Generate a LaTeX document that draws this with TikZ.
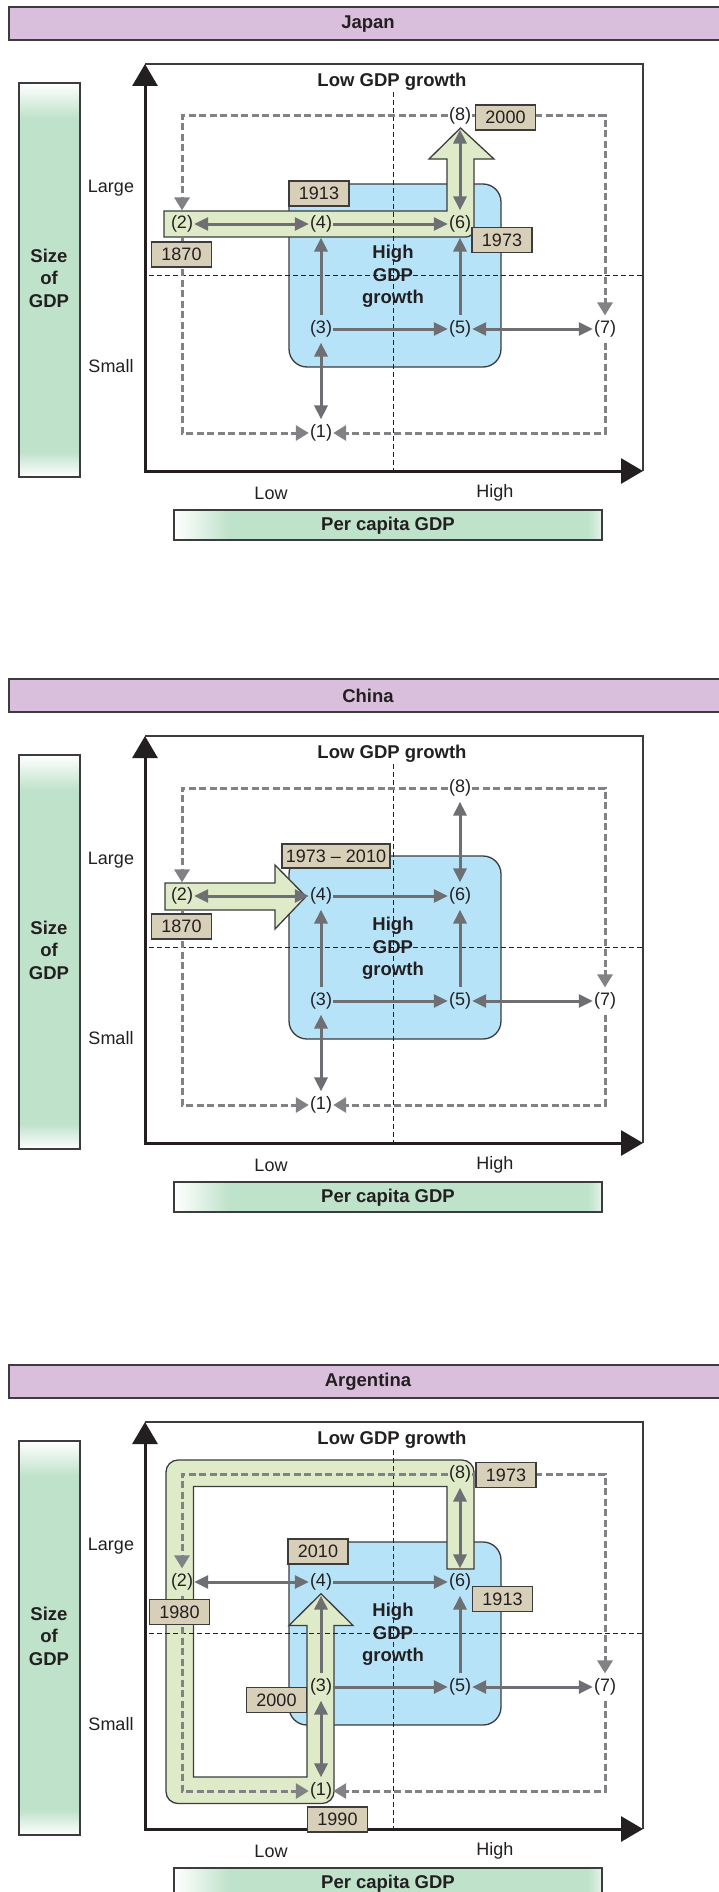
\documentclass[tikz,border=0pt]{standalone}
\usepackage{fontspec}
\setmainfont{Liberation Sans}
\usetikzlibrary{arrows.meta}
\definecolor{titlepurple}{RGB}{217,191,220}
\definecolor{gdpgreen}{RGB}{191,226,203}
\definecolor{bluebox}{RGB}{183,227,248}
\definecolor{lightgreen}{RGB}{223,235,200}
\definecolor{tanbox}{RGB}{216,207,185}
\definecolor{arrowgray}{RGB}{110,111,114}
\definecolor{dashgray}{RGB}{128,130,133}
\definecolor{darkline}{RGB}{35,31,32}
\definecolor{bordergray}{RGB}{60,60,62}
\newcommand\numfont{\fontsize{18}{21}\selectfont}
\newcommand\boldfnt{\fontsize{18.5}{22.5}\selectfont\bfseries}
\tikzset{
  numnode/.style={inner xsep=1pt, inner ysep=5pt, font=\numfont, text=darkline},
  plaintext/.style={inner sep=0pt, font=\numfont, text=darkline},
  boldtext/.style={inner sep=0pt, font=\boldfnt, text=darkline, align=center},
  yearbox/.style={draw=bordergray, line width=1.3pt, fill=tanbox, minimum width=60pt, minimum height=25pt, inner sep=0pt, font=\numfont, text=darkline},
  greenshape/.style={draw=bordergray, line width=1.3pt, fill=lightgreen, line join=miter},
  grayarrow/.style={draw=arrowgray, line width=3pt, -{Triangle[length=14pt,width=13pt]}},
  graydouble/.style={draw=arrowgray, line width=3pt, {Triangle[length=14pt,width=13pt]}-{Triangle[length=14pt,width=13pt]}},
  dasharrow/.style={draw=dashgray, line width=3pt, dash pattern=on 7pt off 3.5pt, line join=miter, -{Triangle[length=13pt,width=15pt]}},
  midline/.style={draw=darkline, line width=0.9pt, dash pattern=on 5pt off 3pt},
  axisline/.style={draw=darkline, line width=3pt, line join=miter, {Triangle[length=22pt,width=25pt]}-{Triangle[length=22pt,width=25pt]}},
  framestyle/.style={draw=bordergray, line width=1.3pt},
  barborder/.style={draw=bordergray, line width=1.3pt},
}
% #1 prefix, #2 y offset, #3 title, #4 green shape, #5 year labels
\newcommand\gdppanel[5]{%
\begin{scope}[shift={(0,#2)}]
  % title bar
  \draw[barborder, fill=titlepurple] (9,7) rectangle (740,40);
  \node[boldtext] (#1title) at (368,24) {#3};
  % size of GDP bar
  \fill[gdpgreen] (19,83) rectangle (80,477);
  \shade[top color=white, bottom color=gdpgreen] (19,83) rectangle (80,118);
  \shade[top color=gdpgreen, bottom color=white] (19,452) rectangle (80,477);
  \draw[barborder] (19,83) rectangle (80,477);
  \node[boldtext] (#1size) at (49,278) {Size\\of\\GDP};
  % per capita bar
  \fill[gdpgreen] (174,510) rectangle (602,540);
  \shade[left color=white, right color=gdpgreen] (174,510) rectangle (230,540);
  \shade[left color=gdpgreen, right color=white!60!gdpgreen] (588,510) rectangle (602,540);
  \draw[barborder] (174,510) rectangle (602,540);
  \node[boldtext] (#1percap) at (388,526) {Per capita GDP};
  % axis labels
  \node[plaintext] (#1large) at (111,188) {Large};
  \node[plaintext] (#1small) at (111,366) {Small};
  \node[plaintext] (#1lowx) at (271,493) {Low};
  \node[plaintext] (#1highx) at (495,493) {High};
  % frame and axes
  \coordinate (#1origin) at (145,471);
  \coordinate (#1ytop) at (145,64);
  \coordinate (#1xend) at (643,471);
  \coordinate (#1corner) at (643,64);
  \draw[framestyle] (#1ytop) -- (#1corner) -- (643,471);
  \draw[axisline] (#1ytop) -- (#1origin) -- (#1xend);
  % blue box
  \draw[draw=bordergray, line width=1.3pt, fill=bluebox, rounded corners=18pt] (289,184) rectangle (501,367);
  % green path
  #4
  % mid lines
  \draw[midline] (393,92) -- (393,471);
  \draw[midline] (149,275) -- (643,275);
  % texts
  \node[boldtext] (#1lowgrowth) at (392,81.5) {Low GDP growth};
  \node[boldtext] (#1highgrowth) at (393,276.5) {High\\GDP\\growth};
  % numbered nodes
  \node[numnode] (#1n1) at (321,433) {(1)};
  \node[numnode] (#1n2) at (182,224) {(2)};
  \node[numnode] (#1n3) at (321,329) {(3)};
  \node[numnode] (#1n4) at (321,224) {(4)};
  \node[numnode] (#1n5) at (460,329) {(5)};
  \node[numnode] (#1n6) at (460,224) {(6)};
  \node[numnode] (#1n7) at (605,329) {(7)};
  \node[numnode] (#1n8) at (460,116) {(8)};
  % dashed arrows
  \draw[dasharrow] (#1n8.west) -| (#1n2.north);
  \draw[dasharrow] (#1n8.east) -| (#1n7.north);
  \draw[dasharrow] (#1n2.south) |- (#1n1.west);
  \draw[dasharrow] (#1n7.south) |- (#1n1.east);
  % solid arrows
  \draw[graydouble] (#1n2) -- (#1n4);
  \draw[grayarrow] (#1n4) -- (#1n6);
  \draw[grayarrow] (#1n3) -- (#1n4);
  \draw[grayarrow] (#1n5) -- (#1n6);
  \draw[grayarrow] (#1n3) -- (#1n5);
  \draw[graydouble] (#1n5) -- (#1n7);
  \draw[graydouble] (#1n3) -- (#1n1);
  \draw[graydouble] (#1n6) -- (#1n8);
  % year labels
  #5
\end{scope}}

\begin{document}
\begin{tikzpicture}[x=1pt,y=-1pt]
\useasboundingbox (0,0) rectangle (719,1892);
\clip (0,0) rectangle (719,1892);
\fill[white] (0,0) rectangle (719,1892);

\gdppanel{j}{0}{Japan}{%
  \draw[greenshape] (164,211) -- (447,211) -- (447,159) -- (429,159) -- (460.5,128)
    -- (494,159) -- (474,159) -- (474,229) .. controls (474,233.4) and (470.4,237) .. (466,237)
    -- (164,237) -- cycle;
}{%
  \node[yearbox] (jy1913) at (319,193.5) {1913};
  \node[yearbox] (jy1870) at (181.5,254.5) {1870};
  \node[yearbox] (jy1973) at (502,240) {1973};
  \node[yearbox] (jy2000) at (505.5,117.5) {2000};
}

\gdppanel{c}{672}{China}{%
  \draw[greenshape] (165,211) -- (275,211) -- (275,193) -- (306,224.5) -- (275,257)
    -- (275,238) -- (165,238) -- cycle;
}{%
  \node[yearbox, minimum width=108pt, minimum height=24pt] (cy7310) at (336,184) {1973 -- 2010};
  \node[yearbox] (cy1870) at (181.5,254.5) {1870};
}

\gdppanel{a}{1358}{Argentina}{%
  \draw[greenshape] (447,211) -- (447,128.5) -- (193.5,128.5) -- (193.5,419) -- (307,419)
    -- (307,267.5) -- (289,267.5) -- (321,235.7) -- (353,267.5) -- (334,267.5)
    -- (334,433.5) .. controls (334,440.1) and (328.6,445.5) .. (322,445.5)
    -- (178,445.5) .. controls (171.4,445.5) and (166,440.1) .. (166,433.5)
    -- (166,114) .. controls (166,107.4) and (171.4,102) .. (178,102)
    -- (462,102) .. controls (468.6,102) and (474,107.4) .. (474,114)
    -- (474,211) -- cycle;
}{%
  \node[yearbox] (ay1973) at (506,117) {1973};
  \node[yearbox] (ay2010) at (318,193.5) {2010};
  \node[yearbox] (ay1913) at (502.5,241) {1913};
  \node[yearbox] (ay1980) at (179.5,254) {1980};
  \node[yearbox] (ay2000) at (276.5,342) {2000};
  \node[yearbox] (ay1990) at (337.5,461.5) {1990};
}
\end{tikzpicture}
\end{document}
